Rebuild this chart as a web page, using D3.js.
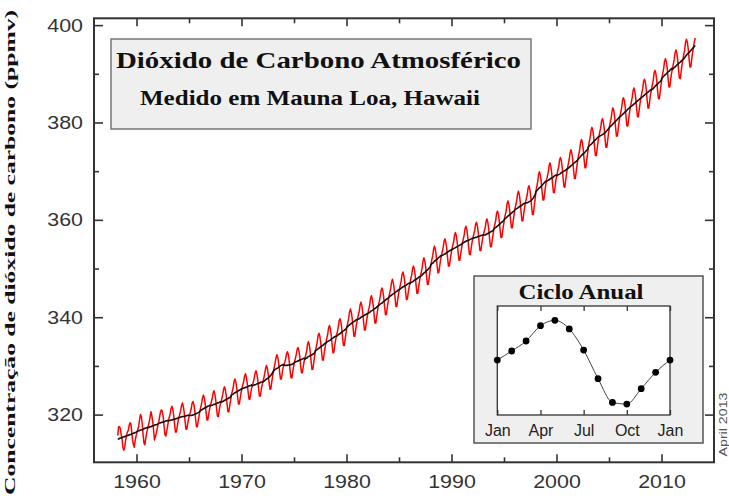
<!DOCTYPE html>
<html>
<head>
<meta charset="utf-8">
<script src="https://cdn.jsdelivr.net/npm/d3@7"></script>
<style>
  html, body { margin: 0; padding: 0; background: #fff; }
  svg { display: block; }
</style>
</head>
<body>
<svg id="chart" width="729" height="500"></svg>
<script>
// ---------------- DATA ----------------
const years = [1958,1959,1960,1961,1962,1963,1964,1965,1966,1967,1968,1969,1970,1971,1972,1973,1974,1975,1976,1977,1978,1979,1980,1981,1982,1983,1984,1985,1986,1987,1988,1989,1990,1991,1992,1993,1994,1995,1996,1997,1998,1999,2000,2001,2002,2003,2004,2005,2006,2007,2008,2009,2010,2011,2012,2013];

// Monthly mean CO2 (red), Jan..Dec per year
const monthlyCO2 = [
[null,null,315.7,317.5,317.5,317.1,315.9,314.9,313.2,312.7,313.3,314.7],
[315.6,316.4,316.7,317.7,318.3,318.2,316.5,314.8,313.8,313.3,314.8,315.6],
[316.4,317.0,317.6,319.0,320.0,319.6,318.2,315.9,314.2,313.8,315.0,316.2],
[316.9,317.7,318.5,319.5,320.6,319.8,318.6,316.8,314.8,315.4,316.1,317.0],
[317.9,318.6,319.7,320.6,321.0,320.6,319.6,317.6,315.9,315.6,316.6,317.6],
[318.8,319.5,320.2,321.3,321.7,321.1,319.8,318.0,316.4,316.4,317.5,318.6],
[319.5,320.1,320.9,321.9,322.4,321.7,320.4,318.6,317.0,317.0,318.1,319.2],
[319.9,320.5,321.2,322.3,322.7,322.1,320.9,319.1,317.5,317.5,318.7,319.8],
[320.8,321.6,322.4,323.5,324.0,323.4,322.2,320.4,318.9,318.9,320.1,321.2],
[321.9,322.6,323.3,324.4,324.9,324.2,323.0,321.2,319.7,319.6,320.8,321.9],
[322.6,323.3,324.1,325.2,325.7,325.1,323.9,322.1,320.6,320.6,321.8,322.9],
[324.1,324.8,325.6,326.8,327.3,326.7,325.5,323.7,322.2,322.2,323.4,324.5],
[325.4,326.1,326.8,327.9,328.4,327.7,326.5,324.7,323.2,323.1,324.3,325.4],
[326.0,326.7,327.5,328.5,329.0,328.4,327.2,325.3,323.8,323.8,325.0,326.0],
[326.8,327.5,328.4,329.5,330.1,329.5,328.3,326.6,325.2,325.3,326.6,327.9],
[329.0,329.8,330.7,331.8,332.3,331.7,330.5,328.8,327.3,327.3,328.5,329.6],
[330.3,330.8,331.5,332.5,332.9,332.3,331.0,329.1,327.6,327.5,328.7,329.8],
[330.8,331.5,332.3,333.3,333.8,333.2,332.0,330.2,328.6,328.6,329.8,330.9],
[331.5,332.3,333.1,334.5,335.0,334.3,333.0,331.0,329.3,329.3,330.6,331.9],
[333.2,334.0,334.9,336.2,336.7,336.1,334.8,332.9,331.2,331.2,332.6,333.8],
[334.8,335.7,336.5,337.8,338.3,337.6,336.4,334.4,332.7,332.8,334.1,335.3],
[336.2,337.0,337.9,339.2,339.7,339.1,337.8,335.9,334.2,334.2,335.6,336.8],
[338.1,338.9,339.8,341.1,341.7,341.0,339.7,337.8,336.1,336.1,337.5,338.7],
[339.6,340.4,341.2,342.5,343.1,342.4,341.1,339.1,337.4,337.4,338.7,339.9],
[340.9,341.7,342.5,343.9,344.4,343.7,342.4,340.5,338.8,338.8,340.2,341.4],
[342.5,343.3,344.2,345.5,346.0,345.4,344.1,342.2,340.5,340.6,341.9,343.1],
[344.2,345.1,345.9,347.2,347.8,347.1,345.8,343.9,342.2,342.2,343.6,344.8],
[345.8,346.6,347.5,348.8,349.3,348.6,347.3,345.3,343.6,343.7,345.0,346.2],
[347.0,347.9,348.7,350.0,350.5,349.9,348.6,346.6,344.9,344.9,346.3,347.5],
[348.5,349.3,350.2,351.6,352.2,351.5,350.3,348.4,346.7,346.8,348.2,349.5],
[350.9,351.8,352.6,354.0,354.6,353.9,352.7,350.7,349.1,349.2,350.5,351.8],
[352.7,353.5,354.3,355.6,356.1,355.4,354.2,352.2,350.5,350.5,351.8,353.0],
[354.0,354.8,355.6,356.9,357.4,356.7,355.4,353.4,351.7,351.7,353.0,354.2],
[355.3,356.1,356.9,358.2,358.7,358.0,356.6,354.6,352.9,352.9,354.2,355.4],
[356.3,357.1,357.8,359.1,359.5,358.8,357.5,355.4,353.7,353.7,354.9,356.1],
[357.0,357.7,358.4,359.7,360.2,359.5,358.2,356.2,354.5,354.5,355.8,357.0],
[358.2,359.1,359.9,361.3,361.8,361.2,359.9,358.0,356.4,356.4,357.8,359.0],
[360.2,361.1,361.9,363.3,363.9,363.2,362.0,360.0,358.4,358.4,359.8,361.0],
[362.2,363.1,363.9,365.3,365.9,365.2,363.8,361.6,359.8,359.8,361.2,362.5],
[363.5,364.4,365.1,366.5,367.0,366.3,364.9,362.8,361.1,361.1,362.7,364.2],
[365.9,366.9,367.8,369.3,369.9,369.2,367.9,365.8,364.1,364.1,365.6,367.0],
[368.0,368.9,369.7,371.1,371.7,371.0,369.6,367.4,365.6,365.6,367.0,368.3],
[369.2,370.1,370.9,372.3,372.8,372.2,370.8,368.6,366.8,366.7,368.1,369.5],
[370.6,371.5,372.4,373.8,374.4,373.7,372.4,370.3,368.5,368.5,369.9,371.3],
[372.5,373.5,374.4,375.9,376.5,375.9,374.6,372.4,370.7,370.7,372.2,373.6],
[375.1,376.1,377.0,378.4,379.0,378.4,377.1,375.0,373.2,373.2,374.7,376.1],
[377.2,378.1,378.9,380.3,380.8,380.1,378.8,376.6,374.9,374.9,376.4,377.8],
[379.1,380.1,380.9,382.4,383.0,382.4,381.1,379.0,377.2,377.2,378.7,380.1],
[381.3,382.2,383.1,384.6,385.1,384.5,383.2,381.0,379.3,379.3,380.8,382.1],
[383.3,384.2,385.1,386.5,387.1,386.4,385.1,383.0,381.2,381.2,382.6,384.0],
[385.1,386.1,386.9,388.4,388.9,388.3,386.9,384.8,383.0,383.0,384.4,385.8],
[386.8,387.7,388.6,390.1,390.7,390.1,388.7,386.6,384.9,384.9,386.3,387.7],
[389.2,390.2,391.1,392.6,393.1,392.5,391.2,389.1,387.3,387.3,388.8,390.2],
[391.0,392.0,392.9,394.3,394.9,394.3,392.9,390.8,389.1,389.0,390.5,391.9],
[393.0,394.0,394.9,396.5,397.1,396.5,395.2,393.1,391.4,391.4,392.9,394.3],
[395.5,396.5,397.4]
];

// Seasonally adjusted CO2 (black), Jan..Dec per year
const trendCO2 = [
[null,null,315.0,315.0,315.1,315.2,315.2,315.3,315.4,315.4,315.5,315.6],
[315.6,315.7,315.7,315.8,315.9,315.9,316.0,316.1,316.2,316.2,316.3,316.4],
[316.5,316.6,316.7,316.7,316.8,316.9,316.9,317.0,317.1,317.2,317.2,317.3],
[317.3,317.4,317.4,317.5,317.5,317.6,317.7,317.7,317.8,317.9,317.9,318.0],
[318.1,318.2,318.3,318.3,318.4,318.4,318.5,318.5,318.6,318.7,318.7,318.8],
[318.7,318.8,318.8,318.9,318.9,319.0,319.0,319.1,319.1,319.2,319.2,319.3],
[319.4,319.4,319.5,319.5,319.6,319.6,319.6,319.7,319.7,319.8,319.8,319.9],
[319.8,319.8,319.8,319.9,319.9,320.0,320.1,320.2,320.2,320.3,320.4,320.5],
[320.7,320.9,321.0,321.1,321.2,321.3,321.4,321.5,321.6,321.7,321.8,321.9],
[321.8,321.9,321.9,322.0,322.1,322.1,322.2,322.3,322.4,322.4,322.5,322.6],
[322.5,322.6,322.7,322.8,322.9,323.0,323.1,323.2,323.3,323.4,323.5,323.6],
[324.0,324.1,324.2,324.4,324.5,324.6,324.7,324.8,324.9,325.0,325.1,325.2],
[325.3,325.4,325.4,325.5,325.6,325.6,325.7,325.8,325.9,325.9,326.0,326.1],
[325.9,326.0,326.1,326.1,326.2,326.3,326.4,326.4,326.5,326.6,326.7,326.7],
[326.7,326.8,327.0,327.1,327.3,327.4,327.5,327.7,327.9,328.1,328.3,328.6],
[328.9,329.1,329.3,329.4,329.5,329.6,329.7,329.9,330.0,330.1,330.2,330.3],
[330.2,330.1,330.1,330.1,330.1,330.2,330.2,330.2,330.3,330.3,330.4,330.5],
[330.7,330.8,330.9,330.9,331.0,331.1,331.2,331.3,331.3,331.4,331.5,331.6],
[331.4,331.5,331.6,331.8,331.9,332.0,332.1,332.2,332.3,332.4,332.5,332.7],
[333.1,333.2,333.4,333.5,333.6,333.8,333.9,334.1,334.2,334.3,334.5,334.6],
[334.7,334.9,335.0,335.1,335.2,335.3,335.5,335.6,335.7,335.9,336.0,336.1],
[336.1,336.2,336.4,336.5,336.6,336.8,336.9,337.1,337.2,337.3,337.5,337.6],
[338.0,338.1,338.3,338.4,338.6,338.7,338.8,339.0,339.1,339.2,339.4,339.5],
[339.5,339.6,339.7,339.8,340.0,340.1,340.2,340.3,340.4,340.5,340.6,340.7],
[340.8,340.9,341.0,341.2,341.3,341.4,341.5,341.7,341.8,341.9,342.1,342.2],
[342.4,342.5,342.7,342.8,342.9,343.1,343.2,343.4,343.5,343.7,343.8,343.9],
[344.1,344.3,344.4,344.5,344.7,344.8,344.9,345.1,345.2,345.3,345.5,345.6],
[345.7,345.8,346.0,346.1,346.2,346.3,346.4,346.5,346.6,346.8,346.9,347.0],
[346.9,347.1,347.2,347.3,347.4,347.6,347.7,347.8,347.9,348.0,348.2,348.3],
[348.4,348.5,348.7,348.9,349.1,349.2,349.4,349.6,349.7,349.9,350.1,350.3],
[350.8,351.0,351.1,351.3,351.5,351.6,351.8,351.9,352.1,352.3,352.4,352.6],
[352.6,352.7,352.8,352.9,353.0,353.1,353.3,353.4,353.5,353.6,353.7,353.8],
[353.9,354.0,354.1,354.2,354.3,354.4,354.5,354.6,354.7,354.8,354.9,355.0],
[355.2,355.3,355.4,355.5,355.6,355.7,355.7,355.8,355.9,356.0,356.1,356.2],
[356.2,356.3,356.3,356.4,356.4,356.5,356.6,356.6,356.7,356.8,356.8,356.9],
[356.9,356.9,356.9,357.0,357.1,357.2,357.3,357.4,357.5,357.6,357.7,357.8],
[358.1,358.3,358.4,358.6,358.7,358.9,359.0,359.2,359.4,359.5,359.7,359.8],
[360.1,360.3,360.4,360.6,360.8,360.9,361.1,361.2,361.4,361.5,361.7,361.8],
[362.1,362.2,362.3,362.4,362.6,362.7,362.8,362.9,363.0,363.2,363.3,363.4],
[363.4,363.5,363.5,363.6,363.7,363.8,363.9,364.1,364.3,364.5,364.8,365.1],
[365.8,366.0,366.2,366.4,366.6,366.7,366.9,367.1,367.3,367.5,367.7,367.9],
[367.9,368.0,368.1,368.2,368.4,368.5,368.6,368.7,368.8,369.0,369.1,369.2],
[369.1,369.2,369.3,369.4,369.5,369.7,369.8,369.9,370.0,370.1,370.2,370.4],
[370.5,370.6,370.8,370.9,371.1,371.2,371.4,371.6,371.7,371.9,372.0,372.2],
[372.4,372.6,372.8,373.0,373.2,373.4,373.6,373.7,373.9,374.1,374.3,374.5],
[375.0,375.2,375.4,375.5,375.7,375.9,376.1,376.3,376.4,376.6,376.8,377.0],
[377.1,377.2,377.3,377.4,377.5,377.6,377.8,377.9,378.1,378.3,378.5,378.7],
[379.0,379.2,379.3,379.5,379.7,379.9,380.1,380.3,380.4,380.6,380.8,381.0],
[381.2,381.3,381.5,381.7,381.8,382.0,382.2,382.3,382.5,382.7,382.9,383.0],
[383.2,383.3,383.5,383.6,383.8,383.9,384.1,384.3,384.4,384.6,384.7,384.9],
[385.0,385.2,385.3,385.5,385.6,385.8,385.9,386.1,386.2,386.4,386.5,386.7],
[386.7,386.8,387.0,387.2,387.4,387.6,387.7,387.9,388.1,388.3,388.4,388.6],
[389.1,389.3,389.5,389.7,389.8,390.0,390.2,390.4,390.5,390.7,390.9,391.1],
[390.9,391.1,391.3,391.4,391.6,391.8,391.9,392.1,392.3,392.4,392.6,392.8],
[392.9,393.1,393.3,393.6,393.8,394.0,394.2,394.4,394.6,394.8,395.0,395.2],
[395.4,395.6,395.8]
];

// Main axis ticks
const yMajorTicks = [320, 340, 360, 380, 400];
const yMinorTicks = [330, 350, 370, 390];
const xMajorTicks = [1960, 1970, 1980, 1990, 2000, 2010];
const xMinorTicks = [1965, 1975, 1985, 1995, 2005];

// Inset: annual cycle (ppm deviation), Jan..Dec, Jan
const cycleMonthIndex = [0,1,2,3,4,5,6,7,8,9,10,11,12];
const cycleValues = [0.16, 0.83, 1.57, 2.70, 3.10, 2.46, 0.90, -1.22, -2.98, -3.10, -1.96, -0.75, 0.16];
const cycleTickPos = [0, 3, 6, 9, 12];
const cycleTickLabels = ["Jan", "Apr", "Jul", "Oct", "Jan"];

// Texts
const titleText = "Dióxido de Carbono Atmosférico";
const subtitleText = "Medido em Mauna Loa, Hawaii";
const yLabelText = "Concentração de dióxido de carbono (ppmv)";
const insetTitleText = "Ciclo Anual";
const stampText = "April 2013";

// ---------------- DRAW ----------------
const svg = d3.select("#chart");
const L = 94, R = 714, T = 18.3, B = 462.3;

const x = d3.scaleLinear().domain([1955.95, 2015.0]).range([L, R]);
const y = d3.scaleLinear().domain([310.2, 401.4]).range([B, T]);

function toSeries(rows) {
  const pts = [];
  rows.forEach((row, i) => {
    row.forEach((v, m) => {
      if (v !== null && v !== undefined) pts.push({t: years[i] + (m + 0.5) / 12, v});
    });
  });
  return pts;
}
const redPts = toSeries(monthlyCO2);
const blackPts = toSeries(trendCO2);

const line = d3.line().x(d => x(d.t)).y(d => y(d.v));

svg.append("path").datum(redPts).attr("d", line)
  .attr("fill", "none").attr("stroke", "#ff0000").attr("stroke-width", 1.5)
  .attr("stroke-linejoin", "round");
svg.append("path").datum(blackPts).attr("d", line)
  .attr("fill", "none").attr("stroke", "#111").attr("stroke-width", 1.6)
  .attr("stroke-linejoin", "round");

// Axes
const axisColor = "#333";
function styleAxis(g) {
  g.select(".domain").remove();
  g.selectAll(".tick line").attr("stroke", axisColor).attr("stroke-width", 1.6);
  g.selectAll(".tick text").attr("fill", "#333")
    .style("font-family", "'Liberation Sans', Arial, sans-serif")
    .style("font-size", "19px");
}
function fitLabels(g) {
  g.selectAll(".tick text").each(function() {
    const s = d3.select(this).text();
    if (s) d3.select(this).attr("textLength", s.length * 11.9).attr("lengthAdjust", "spacingAndGlyphs");
  });
}

// left
svg.append("g").attr("transform", `translate(${L},0)`)
  .call(d3.axisLeft(y).tickValues(yMajorTicks).tickSizeInner(-9).tickSizeOuter(0).tickPadding(11).tickFormat(d3.format("d")))
  .call(styleAxis).call(fitLabels);
svg.append("g").attr("transform", `translate(${L},0)`)
  .call(d3.axisLeft(y).tickValues(yMinorTicks).tickSizeInner(-5).tickSizeOuter(0).tickFormat(""))
  .call(styleAxis);
// right
svg.append("g").attr("transform", `translate(${R},0)`)
  .call(d3.axisRight(y).tickValues(yMajorTicks).tickSizeInner(-9).tickSizeOuter(0).tickFormat(""))
  .call(styleAxis);
svg.append("g").attr("transform", `translate(${R},0)`)
  .call(d3.axisRight(y).tickValues(yMinorTicks).tickSizeInner(-5).tickSizeOuter(0).tickFormat(""))
  .call(styleAxis);
// bottom
svg.append("g").attr("transform", `translate(0,${B})`)
  .call(d3.axisBottom(x).tickValues(xMajorTicks).tickSizeInner(-8).tickSizeOuter(0).tickPadding(12).tickFormat(d3.format("d")))
  .call(styleAxis).call(fitLabels);
svg.append("g").attr("transform", `translate(0,${B})`)
  .call(d3.axisBottom(x).tickValues(xMinorTicks).tickSizeInner(-5).tickSizeOuter(0).tickFormat(""))
  .call(styleAxis);
// top
svg.append("g").attr("transform", `translate(0,${T})`)
  .call(d3.axisTop(x).tickValues(xMajorTicks).tickSizeInner(-8).tickSizeOuter(0).tickFormat(""))
  .call(styleAxis);
svg.append("g").attr("transform", `translate(0,${T})`)
  .call(d3.axisTop(x).tickValues(xMinorTicks).tickSizeInner(-5).tickSizeOuter(0).tickFormat(""))
  .call(styleAxis);

// frame
svg.append("rect").attr("x", L).attr("y", T).attr("width", R - L).attr("height", B - T)
  .attr("fill", "none").attr("stroke", axisColor).attr("stroke-width", 2);

// Title box
svg.append("rect").attr("x", 111).attr("y", 39).attr("width", 420).attr("height", 90)
  .attr("fill", "#efefef").attr("stroke", "#777").attr("stroke-width", 1.5);
svg.append("text").attr("x", 116).attr("y", 68).text(titleText)
  .attr("textLength", 405).attr("lengthAdjust", "spacingAndGlyphs")
  .style("font-family", "'Liberation Serif', 'Times New Roman', serif")
  .style("font-weight", "bold").style("font-size", "24px").attr("fill", "#111");
svg.append("text").attr("x", 140).attr("y", 105).text(subtitleText)
  .attr("textLength", 340).attr("lengthAdjust", "spacingAndGlyphs")
  .style("font-family", "'Liberation Serif', 'Times New Roman', serif")
  .style("font-weight", "bold").style("font-size", "20px").attr("fill", "#111");

// Y label
svg.append("text").attr("transform", "translate(15,252.5) rotate(-90)")
  .attr("text-anchor", "middle").text(yLabelText)
  .attr("textLength", 485).attr("lengthAdjust", "spacingAndGlyphs")
  .style("font-family", "'Liberation Serif', 'Times New Roman', serif")
  .style("font-weight", "bold").style("font-size", "15.5px").attr("fill", "#111");

// Stamp
svg.append("text").attr("transform", "translate(727,424.5) rotate(-90)")
  .attr("text-anchor", "middle").text(stampText)
  .attr("textLength", 64).attr("lengthAdjust", "spacingAndGlyphs")
  .style("font-family", "'Liberation Sans', Arial, sans-serif")
  .style("font-size", "11px").attr("fill", "#555");

// ---------------- INSET ----------------
const iL = 497.3, iR = 670, iT = 306, iB = 415;
svg.append("rect").attr("x", 474).attr("y", 276).attr("width", 229).attr("height", 167)
  .attr("fill", "#efefef").attr("stroke", "#555").attr("stroke-width", 1.5);
svg.append("rect").attr("x", iL).attr("y", iT).attr("width", iR - iL).attr("height", iB - iT)
  .attr("fill", "#fff").attr("stroke", "#333").attr("stroke-width", 1.3);
svg.append("text").attr("x", 581).attr("y", 298.5).attr("text-anchor", "middle").text(insetTitleText)
  .attr("textLength", 125).attr("lengthAdjust", "spacingAndGlyphs")
  .style("font-family", "'Liberation Serif', 'Times New Roman', serif")
  .style("font-weight", "bold").style("font-size", "20px").attr("fill", "#111");

const ix = d3.scaleLinear().domain([0, 12]).range([iL, iR]);
const iy = d3.scaleLinear().domain([-3.91, 4.16]).range([iB, iT]);

const gi = svg.append("g");
gi.append("g").attr("transform", `translate(0,${iB})`)
  .call(d3.axisBottom(ix).tickValues(cycleTickPos).tickSizeInner(-5).tickSizeOuter(0).tickPadding(10)
    .tickFormat((d, i) => cycleTickLabels[i]))
  .call(g => {
    g.select(".domain").remove();
    g.selectAll(".tick line").attr("stroke", "#333").attr("stroke-width", 1.3);
    g.selectAll(".tick text").attr("fill", "#222")
      .style("font-family", "'Liberation Sans', Arial, sans-serif").style("font-size", "16px");
  });
gi.append("g").attr("transform", `translate(0,${iT})`)
  .call(d3.axisTop(ix).tickValues(cycleTickPos).tickSizeInner(-5).tickSizeOuter(0).tickFormat(""))
  .call(g => {
    g.select(".domain").remove();
    g.selectAll(".tick line").attr("stroke", "#333").attr("stroke-width", 1.3);
  });

const cyc = cycleMonthIndex.map((m, i) => ({m, v: cycleValues[i]}));
gi.append("path").datum(cyc)
  .attr("d", d3.line().x(d => ix(d.m)).y(d => iy(d.v)).curve(d3.curveMonotoneX))
  .attr("fill", "none").attr("stroke", "#444").attr("stroke-width", 1);
gi.selectAll("circle").data(cyc).join("circle")
  .attr("cx", d => ix(d.m)).attr("cy", d => iy(d.v)).attr("r", 3.4).attr("fill", "#000");
</script>
</body>
</html>
